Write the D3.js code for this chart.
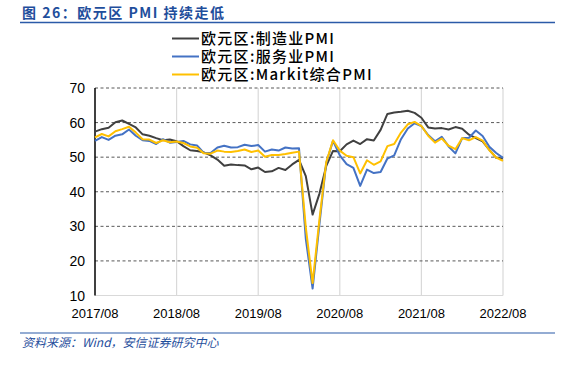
<!DOCTYPE html>
<html>
  <head>
    <meta http-equiv="Content-type" content="text/html; charset=utf-8">
    <title>欧元区 PMI</title>
    <script src="https://d3js.org/d3.v7.min.js"></script>
    <style>
      body { margin: 0; background: #fff; }
      text { font-family: "Liberation Sans", Arial, sans-serif; }
      .cjk { font-family: "Noto Sans CJK SC", sans-serif; }
    </style>
  </head>
  <body>
    <div id="chart"></div>
    <script type="text/javascript">
      // monthly, 2017/08 .. 2022/08
      var tickLabels = ["2017/08", "2018/08", "2019/08", "2020/08", "2021/08", "2022/08"];
      var yTicks = [10, 20, 30, 40, 50, 60, 70];

      var seriesNames = ["欧元区:制造业PMI", "欧元区:服务业PMI", "欧元区:Markit综合PMI"];
      var colors = ["#404040", "#4472c4", "#ffc000"];

      var manufacturing = [57.4, 58.1, 58.5, 60.1, 60.6,
        59.6, 58.6, 56.6, 56.2, 55.5, 54.9, 55.1, 54.6, 53.2, 52.0, 51.8, 51.4,
        50.5, 49.3, 47.5, 47.9, 47.7, 47.6, 46.5, 47.0, 45.7, 45.9, 46.9, 46.3,
        47.9, 49.2, 44.5, 33.4, 39.4, 47.4, 51.8, 51.7, 53.7, 54.8, 53.8, 55.2,
        54.8, 57.9, 62.5, 62.9, 63.1, 63.4, 62.8, 61.4, 58.6, 58.3, 58.4, 58.0,
        58.7, 58.2, 56.5, 55.5, 54.6, 52.1, 49.8, 49.6];
      var services = [54.7, 55.8, 55.0, 56.2, 56.6,
        58.0, 56.2, 54.9, 54.7, 53.8, 55.2, 54.2, 54.4, 54.7, 53.7, 53.4, 51.2,
        51.2, 52.8, 53.3, 52.8, 52.9, 53.6, 53.2, 53.5, 51.6, 52.2, 51.9, 52.8,
        52.5, 52.6, 26.4, 12.0, 30.5, 48.3, 54.7, 50.5, 48.0, 46.9, 41.7, 46.4,
        45.4, 45.7, 49.6, 50.5, 55.2, 58.3, 59.8, 59.0, 56.4, 54.6, 55.9, 53.1,
        51.1, 55.5, 55.6, 57.7, 56.1, 53.0, 51.2, 49.8];
      var composite = [55.7, 56.7, 56.0, 57.5, 58.1,
        58.8, 57.1, 55.2, 55.1, 54.1, 54.9, 54.3, 54.5, 54.1, 53.1, 52.7, 51.1,
        51.0, 51.9, 51.6, 51.5, 51.8, 52.2, 51.5, 51.9, 50.1, 50.6, 50.6, 50.9,
        51.3, 51.6, 29.7, 13.6, 31.9, 48.5, 54.9, 51.9, 50.4, 50.0, 45.3, 49.1,
        47.8, 48.8, 53.2, 53.8, 57.1, 59.5, 60.2, 59.0, 56.2, 54.2, 55.4, 53.3,
        52.3, 55.5, 54.9, 55.8, 54.8, 52.0, 49.9, 48.9];

      var series = [manufacturing, services, composite];

      var width = 573, height = 365;
      var plotL = 95, plotR = 503, plotT = 88, plotB = 295.5;

      var svg = d3.select("#chart").append("svg")
        .attr("width", width)
        .attr("height", height);

      svg.append("rect").attr("width", width).attr("height", height).attr("fill", "#fff");

      var x = d3.scaleLinear().domain([0, manufacturing.length - 1]).range([plotL, plotR]);
      var y = d3.scaleLinear().domain([10, 70]).range([plotB, plotT]);

      // title
      svg.append("text")
        .attr("class", "cjk")
        .attr("x", 22).attr("y", 18)
        .attr("fill", "#1f4e9c")
        .style("font-size", "14px")
        .style("font-weight", "bold")
        .style("letter-spacing", "1.5px")
        .text("图 26：欧元区 PMI 持续走低");
      svg.append("line")
        .attr("x1", 20).attr("x2", 555).attr("y1", 22.5).attr("y2", 22.5)
        .attr("stroke", "#2b5aa8").attr("stroke-width", 1.5);

      // vertical grid (year ticks)
      var yearIdx = tickLabels.map(function(d, i) { return i * 12; });
      svg.append("g").selectAll("line")
        .data(yearIdx.slice(1))
        .enter().append("line")
        .attr("x1", function(d) { return x(d); })
        .attr("x2", function(d) { return x(d); })
        .attr("y1", plotT).attr("y2", plotB)
        .attr("stroke", "#d9d9d9").attr("stroke-width", 1.2);

      // horizontal dashed grid
      svg.append("g").selectAll("line")
        .data(yTicks.slice(1))
        .enter().append("line")
        .attr("x1", plotL).attr("x2", plotR)
        .attr("y1", function(d) { return y(d); })
        .attr("y2", function(d) { return y(d); })
        .attr("stroke", "#595959").attr("stroke-width", 1)
        .attr("stroke-dasharray", "3,2.5");

      // x axis
      svg.append("line")
        .attr("x1", plotL).attr("x2", plotR).attr("y1", plotB).attr("y2", plotB)
        .attr("stroke", "#d9d9d9").attr("stroke-width", 1.2);

      svg.append("defs").append("clipPath").attr("id", "cut")
        .append("rect").attr("x", 0).attr("y", 0).attr("width", 527).attr("height", height);

      svg.append("g").attr("clip-path", "url(#cut)").selectAll("text")
        .data(tickLabels)
        .enter().append("text")
        .attr("x", function(d, i) { return x(yearIdx[i]); })
        .attr("y", 318)
        .attr("text-anchor", "middle")
        .attr("fill", "#000")
        .style("font-size", "13px")
        .text(function(d) { return d; });

      // y axis
      svg.append("g").selectAll("text")
        .data(yTicks)
        .enter().append("text")
        .attr("x", 85)
        .attr("y", function(d) { return y(d) + 5; })
        .attr("text-anchor", "end")
        .attr("fill", "#000")
        .style("font-size", "14px")
        .text(function(d) { return d; });

      svg.append("line")
        .attr("x1", plotL).attr("x2", plotL).attr("y1", plotT).attr("y2", plotB)
        .attr("stroke", "#000").attr("stroke-width", 1.5);

      // lines
      var line = d3.line()
        .x(function(d, i) { return x(i); })
        .y(function(d) { return y(d); });

      svg.append("g").selectAll("path")
        .data(series)
        .enter().append("path")
        .attr("d", line)
        .attr("fill", "none")
        .attr("stroke", function(d, i) { return colors[i]; })
        .attr("stroke-width", 2)
        .attr("stroke-linejoin", "round");

      // legend
      var legend = svg.append("g").selectAll("g")
        .data(seriesNames)
        .enter().append("g")
        .attr("transform", function(d, i) { return "translate(172," + (38.5 + i * 18) + ")"; });
      legend.append("line")
        .attr("x1", 0).attr("x2", 27)
        .attr("stroke", function(d, i) { return colors[i]; })
        .attr("stroke-width", 2);
      legend.append("text")
        .attr("class", "cjk")
        .attr("x", 29).attr("y", 5.5)
        .attr("fill", "#000")
        .style("font-size", "15px")
        .style("font-weight", "500")
        .style("letter-spacing", "1.3px")
        .text(function(d) { return d; });

      // source
      svg.append("line")
        .attr("x1", 20).attr("x2", 555).attr("y1", 333).attr("y2", 333)
        .attr("stroke", "#2b5aa8").attr("stroke-width", 1.2);
      svg.append("text")
        .attr("class", "cjk")
        .attr("x", 22).attr("y", 347)
        .attr("fill", "#1f4e9c")
        .style("font-size", "12px")
        .style("font-style", "italic")
        .text("资料来源：Wind，安信证券研究中心");
    </script>
  </body>
</html>
